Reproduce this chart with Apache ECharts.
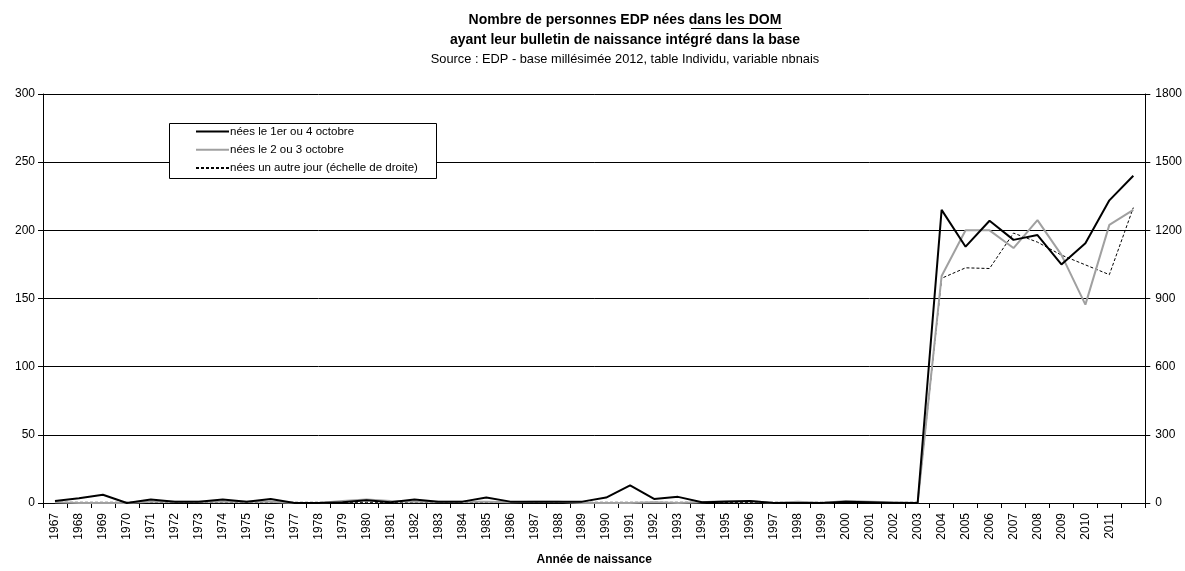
<!DOCTYPE html>
<html>
<head>
<meta charset="utf-8">
<script src="https://cdn.jsdelivr.net/npm/echarts@6/dist/echarts.min.js"></script>
<style>
html,body{margin:0;padding:0;background:#fff;}
#chart{width:1185px;height:571px;}
</style>
</head>
<body>
<div id="chart"></div>
<script>
// Categories: years of birth
var years = ['1967','1968','1969','1970','1971','1972','1973','1974','1975','1976','1977','1978','1979','1980','1981','1982','1983','1984','1985','1986','1987','1988','1989','1990','1991','1992','1993','1994','1995','1996','1997','1998','1999','2000','2001','2002','2003','2004','2005','2006','2007','2008','2009','2010','2011','2012'];
// Tick labels shown under the axis (last year not labelled in the reference)
var yearLabels = ['1967','1968','1969','1970','1971','1972','1973','1974','1975','1976','1977','1978','1979','1980','1981','1982','1983','1984','1985','1986','1987','1988','1989','1990','1991','1992','1993','1994','1995','1996','1997','1998','1999','2000','2001','2002','2003','2004','2005','2006','2007','2008','2009','2010','2011',''];

// Born on 1st or 4th October (left axis)
var nees1ou4 = [1.5,3.5,6,0,2.5,1,1,2.5,1,3,0,0,0.5,2,0.5,2.5,1,1,4,1,1,1,1,4,13,3,4.5,0.5,1,1.5,0,0,0,1,0.5,0,0,215,188,207,193,196.5,175,190.5,222,240];
// Born on 2nd or 3rd October (left axis)
var nees2ou3 = [0.5,0,0,0,1,1,1,1,1,1,0,0,1.5,2.5,1.5,1,1,1,1,0.5,1,1,0,0,0,0.5,0,0.5,1.5,1.5,0,1,0,1.5,1,0.5,0,166.5,200,200,187,207.5,182,145.5,204,215];
// Born on another day (right axis)
var neesAutre = [3,3,3,3,3,3,3,3,3,3,3,3,3,3,3,3,3,3,3,3,3,3,3,3,3,3,3,3,3,3,3,3,3,3,3,3,3,989,1035,1032,1188,1148,1091,1048,1005,1300];

var leftTicks = {min:0, max:300, interval:50};
var rightTicks = {min:0, max:1800, interval:300};

var seriesNames = ['nées le 1er ou 4 octobre','nées le 2 ou 3 octobre','nées un autre jour (échelle de droite)'];

var chart = echarts.init(document.getElementById('chart'));
var font = 'Liberation Sans, Arial, sans-serif';
chart.setOption({
  animation:false,
  backgroundColor:'#fff',
  textStyle:{fontFamily:font},
  grid:{left:43, right:39, top:94, bottom:55, containLabel:false},
  graphic:[
    {type:'text', x:625, y:20, z:20, style:{text:'Nombre de personnes EDP nées dans les DOM', font:'bold 14px '+font, fill:'#000', textAlign:'center', textVerticalAlign:'middle'}},
    {type:'line', x:0, y:0, z:20, shape:{x1:691, y1:28.5, x2:782, y2:28.5}, style:{stroke:'#000', lineWidth:1}},
    {type:'text', x:625, y:40, z:20, style:{text:'ayant leur bulletin de naissance intégré dans la base', font:'bold 14px '+font, fill:'#000', textAlign:'center', textVerticalAlign:'middle'}},
    {type:'text', x:625, y:59, z:20, style:{text:'Source : EDP - base millésimée 2012, table Individu, variable nbnais', font:'12.8px '+font, fill:'#000', textAlign:'center', textVerticalAlign:'middle'}},
    {type:'rect', x:169.5, y:123.5, z:5, shape:{width:267, height:55}, style:{fill:'#fff', stroke:'#000', lineWidth:1}}
  ],
  legend:{
    z:10,
    left:195, top:125.5,
    orient:'vertical',
    itemWidth:33, itemHeight:12, itemGap:6.3,
    padding:0,
    itemStyle:{opacity:0, borderWidth:0, color:'transparent'},
    textStyle:{fontSize:11.5, color:'#000', fontFamily:font, padding:[0,0,0,-4]},
    data:seriesNames
  },
  xAxis:{
    type:'category',
    data:years,
    boundaryGap:true,
    name:'Année de naissance',
    nameLocation:'middle',
    nameGap:51,
    nameTextStyle:{fontWeight:'bold', fontSize:12, color:'#000', fontFamily:font},
    axisLine:{lineStyle:{color:'#000', width:1}},
    axisTick:{show:true, interval:0, length:5, lineStyle:{color:'#000'}},
    axisLabel:{interval:0, rotate:90, fontSize:12, color:'#000', margin:10, fontFamily:font,
      formatter:function(v, i){ return yearLabels[i]; }},
    splitLine:{show:false}
  },
  yAxis:[
    {type:'value', min:leftTicks.min, max:leftTicks.max, interval:leftTicks.interval, position:'left',
     axisLine:{show:true, lineStyle:{color:'#000'}},
     axisTick:{show:true, length:5, lineStyle:{color:'#000'}},
     axisLabel:{fontSize:12, color:'#000', margin:8, fontFamily:font, formatter:function(v){return String(v);}},
     splitLine:{show:true, lineStyle:{color:'#000', width:1}}},
    {type:'value', min:rightTicks.min, max:rightTicks.max, interval:rightTicks.interval, position:'right',
     axisLine:{show:true, lineStyle:{color:'#000'}},
     axisTick:{show:true, length:5, lineStyle:{color:'#000'}},
     axisLabel:{fontSize:12, color:'#000', margin:10, fontFamily:font, formatter:function(v){return String(v);}},
     splitLine:{show:false}}
  ],
  series:[
    {name:seriesNames[2], type:'line', yAxisIndex:1, data:neesAutre, symbol:'none',
     lineStyle:{color:'#000', width:1, type:[3,2]}, itemStyle:{color:'#000'}, z:3},
    {name:seriesNames[1], type:'line', yAxisIndex:0, data:nees2ou3, symbol:'none',
     lineStyle:{color:'#a0a0a0', width:2}, itemStyle:{color:'#a0a0a0'}, z:4},
    {name:seriesNames[0], type:'line', yAxisIndex:0, data:nees1ou4, symbol:'none',
     lineStyle:{color:'#000', width:2}, itemStyle:{color:'#000'}, z:5}
  ]
});
</script>
</body>
</html>
